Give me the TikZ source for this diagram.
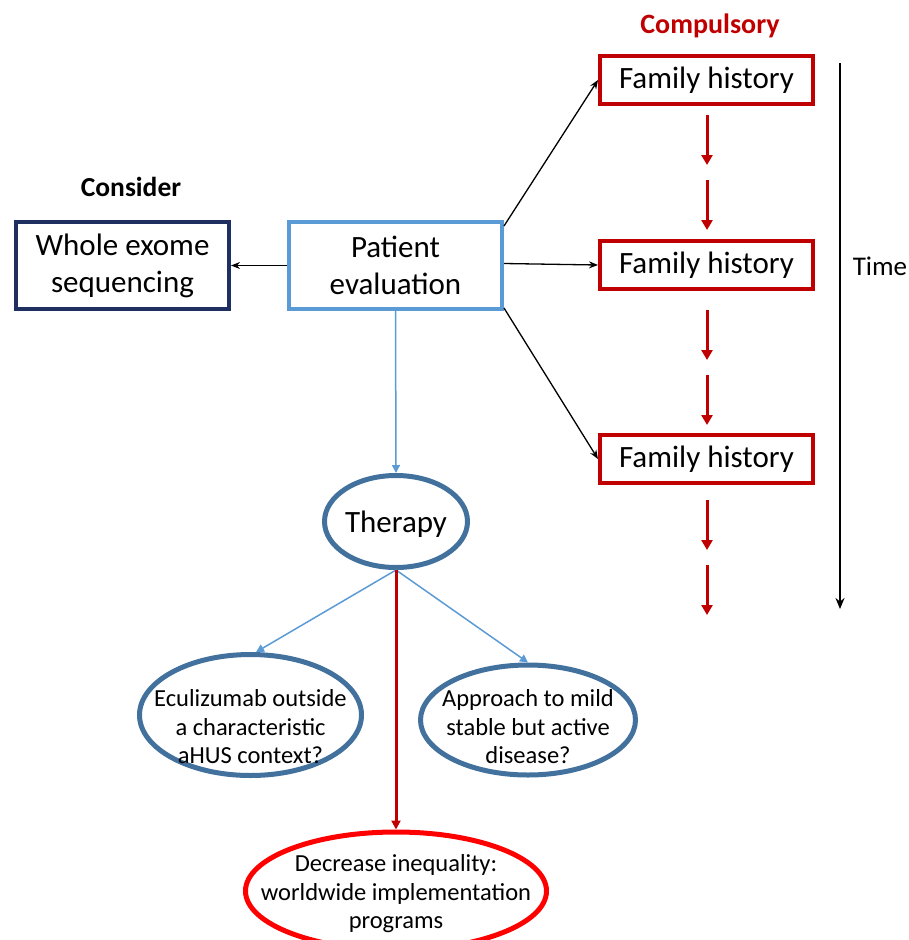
\documentclass[tikz,border=0pt]{standalone}
\usepackage{fontspec}
\setmainfont{Carlito}
\usetikzlibrary{shapes.geometric,arrows.meta,calc}
\definecolor{boxred}{HTML}{C00000}
\definecolor{navy}{HTML}{1F2F60}
\definecolor{lblue}{HTML}{5B9BD5}
\definecolor{sblue}{HTML}{41719C}
\definecolor{bred}{HTML}{FF0000}
\begin{document}
\begin{tikzpicture}[x=1pt,y=-1pt,
  fhbox/.style={draw=boxred,line width=4pt,minimum width=213pt,minimum height=48pt,inner sep=0pt,outer sep=2pt,font=\fontsize{31}{36}\selectfont},
  bigbox/.style={line width=4pt,minimum width=213pt,minimum height=87pt,inner sep=0pt,outer sep=2pt,align=center,font=\fontsize{31}{37}\selectfont},
  ell/.style={ellipse,draw=sblue,line width=5pt,inner sep=0pt,outer sep=2.5pt},
  elltext/.style={inner sep=0pt,align=center,font=\fontsize{24.5}{28.5}\selectfont},
  blk/.style={draw=black,line width=1.3pt,-{Stealth[length=9pt,width=7pt]}},
  redarr/.style={draw=boxred,line width=3pt,-{Triangle[length=10pt,width=11pt]}},
  bluearr/.style={draw=lblue,line width=1.5pt,-{Triangle[length=8pt,width=8pt]}},
  lbl/.style={inner sep=0pt,font=\fontsize{27}{30}\selectfont}]
\useasboundingbox (0,0) rectangle (909,940);
% labels
\node[lbl,text=boxred,font=\bfseries\fontsize{28}{30}\selectfont] (comp) at (710,26) {Compulsory};
\node[lbl,font=\bfseries\fontsize{27.5}{30}\selectfont] (cons) at (131,187) {Consider};
\node[lbl] (time) at (880,266) {Time};
% boxes
\node[fhbox] (fh1) at (706.5,80) {Family history};
\node[fhbox] (fh2) at (706.5,265) {Family history};
\node[fhbox] (fh3) at (706.5,459) {Family history};
\node[bigbox,draw=navy] (wes) at (122.5,265.5) {Whole exome\\sequencing};
\node[bigbox,draw=lblue] (pe) at (395.5,265.5) {Patient\\evaluation};
% ellipses
\node[ell,minimum width=143pt,minimum height=92pt,
  label={[elltext,yshift=-3pt,font=\fontsize{31}{36}\selectfont]center:Therapy}] (ther) at (396,521.5) {};
\node[ell,minimum width=222pt,minimum height=121pt,
  label={[elltext,yshift=-12pt]center:Eculizumab outside\\a characteristic\\aHUS context?}] (ecu) at (250.5,715) {};
\node[ell,minimum width=215pt,minimum height=110pt,
  label={[elltext,yshift=-7pt]center:Approach to mild\\stable but active\\disease?}] (appr) at (528,720) {};
\node[ell,draw=bred,minimum width=301pt,minimum height=118pt,
  label={[elltext,yshift=-3pt]center:Decrease inequality:\\worldwide implementation\\programs}] (dec) at (396,891) {};
% time arrow
\coordinate (t1) at (840,63);
\coordinate (t2) at (840,609);
\draw[line width=2.5pt,-{Stealth[length=11pt,width=9pt]}] (t1) -- (t2);
% red dashed arrows
\foreach \n/\a/\b in {a/115/165,b/180/230,c/310/360,d/375/425,e/500/550,f/565/615}{
  \coordinate (r\n1) at (707,\a);
  \coordinate (r\n2) at (707,\b);
  \draw[redarr] (r\n1) -- (r\n2);
}
% black arrows
\draw[blk] (pe.west) -- (wes.east);
\draw[blk] ($(pe.north east)+(0,6)$) -- (fh1.west);
\draw[blk] ($(pe.east)+(0,-2)$) -- (fh2.west);
\draw[blk] ($(pe.south east)+(0,-3)$) -- (fh3.west);
% blue lines
\draw[bluearr] (pe.south) -- (ther.north);
\draw[bluearr] (ther.south) -- (ecu.85);
\draw[bluearr] (ther.south) -- (appr.north);
% red arrow
\draw[draw=boxred,line width=3pt,-{Triangle[length=9pt,width=9pt]}] (ther.south) -- (dec.north);
\end{tikzpicture}
\end{document}
